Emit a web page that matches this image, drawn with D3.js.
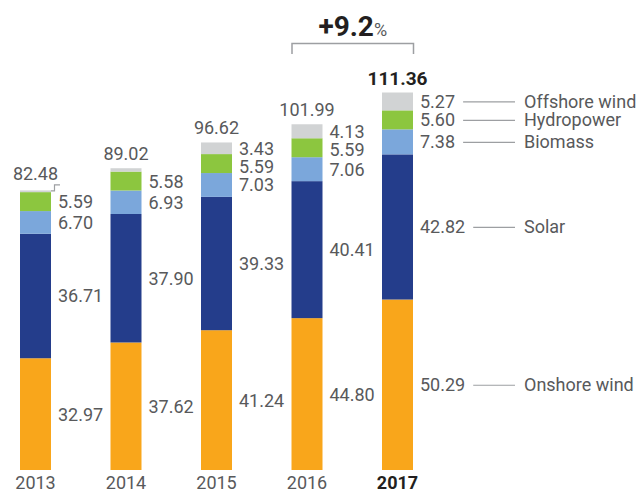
<!DOCTYPE html>
<html>
<head>
<meta charset="utf-8">
<script src="https://cdn.jsdelivr.net/npm/d3@7/dist/d3.min.js"></script>
<style>
  html, body { margin: 0; padding: 0; background: #fff; }
  svg { display: block; }
  text { font-family: Roboto, "Open Sans", sans-serif; }
</style>
</head>
<body>
<svg id="chart" width="643" height="492"></svg>
<script>
// Electricity from renewable sources by technology
const years = ["2013", "2014", "2015", "2016", "2017"];
const onshoreWind = [32.97, 37.62, 41.24, 44.80, 50.29];
const solar = [36.71, 37.90, 39.33, 40.41, 42.82];
const biomass = [6.70, 6.93, 7.03, 7.06, 7.38];
const hydropower = [5.59, 5.58, 5.59, 5.59, 5.60];
const offshoreWind = [0.51, 0.99, 3.43, 4.13, 5.27];
const totals = [82.48, 89.02, 96.62, 101.99, 111.36];
const seriesNames = ["Onshore wind", "Solar", "Biomass", "Hydropower", "Offshore wind"];
const seriesColors = ["#f9a61b", "#243d8b", "#7ba7db", "#8cc63f", "#d1d3d4"];
const growth = "+9.2";
const growthUnit = "%";

const seriesValues = [onshoreWind, solar, biomass, hydropower, offshoreWind];
const keys = seriesNames;
const table = years.map((y, i) => {
  const row = { year: y };
  keys.forEach((k, j) => { row[k] = seriesValues[j][i]; });
  return row;
});

const svg = d3.select("#chart");
const textGrey = "#58595b";
const textDark = "#231f20";
const lineGrey = "#9d9fa2";

const x = d3.scaleBand()
  .domain(years)
  .range([20, 413])
  .paddingInner(0.6575)
  .paddingOuter(0);

const y = d3.scaleLinear()
  .domain([0, 111.36])
  .range([470, 92.5]);

const stacked = d3.stack().keys(keys)(table);
const color = d3.scaleOrdinal().domain(keys).range(seriesColors);

// stacked bars
svg.append("g")
  .selectAll("g")
  .data(stacked)
  .join("g")
  .attr("fill", d => color(d.key))
  .selectAll("rect")
  .data(d => d)
  .join("rect")
  .attr("x", d => x(d.data.year))
  .attr("width", x.bandwidth())
  .attr("y", d => y(d[1]))
  .attr("height", d => y(d[0]) - y(d[1]));

// year axis
const xAxis = svg.append("g")
  .attr("transform", `translate(0,${y(0)})`)
  .call(d3.axisBottom(x).tickSize(0).tickPadding(6));
xAxis.select(".domain").remove();
xAxis.selectAll("text")
  .attr("font-size", 18)
  .attr("fill", (d, i) => i === years.length - 1 ? textDark : textGrey)
  .attr("font-weight", (d, i) => i === years.length - 1 ? 700 : 400)
  .attr("font-family", "Roboto, sans-serif");

const fmt = d3.format(".2f");
const last = years.length - 1;
const labelsG = svg.append("g");

// segment value labels, spaced so they do not overlap
years.forEach((yr, i) => {
  const segs = [];
  for (let j = keys.length - 1; j >= 0; j--) {
    const v = seriesValues[j][i];
    if (v < 2) continue;
    const s = stacked[j][i];
    segs.push({ j, v, cy: (y(s[0]) + y(s[1])) / 2 });
  }
  let prev = -Infinity;
  segs.forEach(s => {
    if (s.cy < prev + 18) s.cy = prev + 18;
    prev = s.cy;
  });
  const lx = x(yr) + x.bandwidth() + 7;
  segs.forEach(s => {
    const t = labelsG.append("text")
      .attr("x", lx)
      .attr("y", s.cy)
      .attr("dy", "0.36em")
      .attr("font-size", 18)
      .attr("fill", textGrey)
      .text(fmt(s.v));
    if (i === last) {
      const w = t.node().getComputedTextLength();
      labelsG.append("line")
        .attr("x1", lx + w + 8).attr("x2", 515)
        .attr("y1", s.cy + 0.5).attr("y2", s.cy + 0.5)
        .attr("stroke", lineGrey).attr("stroke-width", 1.2);
      labelsG.append("text")
        .attr("x", 524)
        .attr("y", s.cy)
        .attr("dy", "0.36em")
        .attr("font-size", 18)
        .attr("fill", textGrey)
        .text(keys[s.j]);
    }
  });
});

// totals above each bar
years.forEach((yr, i) => {
  const top = stacked[keys.length - 1][i][1];
  labelsG.append("text")
    .attr("x", x(yr) + x.bandwidth() / 2)
    .attr("y", y(top) - (i === 0 ? 10 : 8))
    .attr("text-anchor", "middle")
    .attr("font-size", i === last ? 19 : 18)
    .attr("font-weight", i === last ? 700 : 400)
    .attr("fill", i === last ? textDark : textGrey)
    .text(fmt(totals[i]));
});

// small callout for the thin offshore segment of the first bar
{
  const bx = x(years[0]) + x.bandwidth();
  const by = y(stacked[keys.length - 1][0][1]);
  svg.append("path")
    .attr("d", `M${bx},${by + 0.5} H${bx + 3.5} V${by - 5.5} H${bx + 9}`)
    .attr("fill", "none")
    .attr("stroke", lineGrey)
    .attr("stroke-width", 1.2);
}

// growth bracket between the last two years
{
  const x0 = x(years[last - 1]) + 0.5;
  const x1 = x(years[last]) + x.bandwidth() + 0.5;
  svg.append("path")
    .attr("d", `M${x0},54 V43.5 H${x1} V54`)
    .attr("fill", "none")
    .attr("stroke", lineGrey)
    .attr("stroke-width", 1.5);
  const gt = svg.append("text")
    .attr("x", (x0 + x1) / 2)
    .attr("y", 36)
    .attr("text-anchor", "middle")
    .attr("fill", textDark);
  gt.append("tspan").attr("font-size", 28).attr("font-weight", 700).text(growth);
  gt.append("tspan").attr("font-size", 18).attr("fill", textGrey).text(growthUnit);
}
</script>
</body>
</html>
